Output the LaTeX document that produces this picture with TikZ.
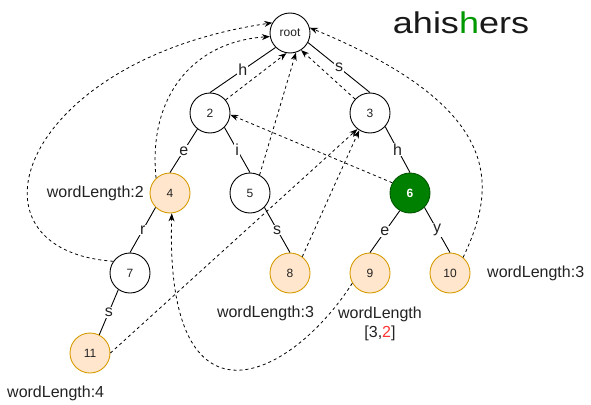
\documentclass[tikz,border=0pt]{standalone}
\usepackage{fontspec}
\setmainfont{Liberation Sans}
\usepackage{graphicx}
\usetikzlibrary{arrows.meta}
\definecolor{orfill}{HTML}{FFE6CC}
\definecolor{ordraw}{HTML}{D79B00}
\definecolor{gfill}{HTML}{008000}
\definecolor{gdraw}{HTML}{005700}
\definecolor{txt}{HTML}{222222}
\definecolor{tgreen}{HTML}{009900}
\definecolor{tred}{HTML}{FF3333}
\tikzset{
  tnode/.style={circle, draw=black, line width=0.9pt, minimum size=40pt, inner sep=0pt,
    font=\fontsize{12}{14}\selectfont, text=txt, fill=white},
  wnode/.style={tnode, fill=orfill, draw=ordraw},
  gnode/.style={tnode, fill=gfill, draw=gdraw, text=white, font=\bfseries\fontsize{12}{14}\selectfont},
  tedge/.style={line width=0.9pt, draw=black},
  elab/.style={fill=white, inner sep=1pt, font=\fontsize{16}{18}\selectfont, text=txt},
  flink/.style={line width=0.8pt, dash pattern=on 3pt off 3pt, -{Stealth[length=8pt,width=6pt]}},
  wlab/.style={font=\fontsize{16}{19}\selectfont, text=txt, inner sep=0pt}
}
\begin{document}
\begin{tikzpicture}[x=1pt, y=-1pt]
\useasboundingbox (0,0) rectangle (591,404);
% nodes
\node[tnode] (root) at (290,33) {root};
\node[tnode] (n2) at (210,113) {2};
\node[tnode] (n3) at (370,113) {3};
\node[wnode] (n4) at (170,193) {4};
\node[tnode] (n5) at (250,193) {5};
\node[gnode] (n6) at (410,193) {6};
\node[tnode] (n7) at (130,273) {7};
\node[wnode] (n8) at (290,273) {8};
\node[wnode] (n9) at (370,273) {9};
\node[wnode] (n10) at (450,273) {10};
\node[wnode] (n11) at (90,353) {11};
% tree edges
\draw[tedge] (root.225) -- node[elab] (lh1) {h} (n2.north);
\draw[tedge] (root.-28) -- node[elab] (ls1) {s} (n3.north);
\draw[tedge] (n2.232) -- node[elab] (le1) {e} (n4.north);
\draw[tedge] (n2.-45) -- node[elab] (li1) {i} (n5.north);
\draw[tedge] (n3.-42) -- node[elab] (lh2) {h} (n6.north);
\draw[tedge] (n4.225) -- node[elab] (lr1) {r} (n7.north);
\draw[tedge] (n5.-45) -- node[elab] (ls2) {s} (n8.north);
\draw[tedge] (n7.235) -- node[elab] (ls3) {s} (n11.63);
\draw[tedge] (n6.240) -- node[elab] (le2) {e} (n9.north);
\draw[tedge] (n6.-45) -- node[elab] (ly1) {y} (n10.north);
% failure links
\draw[flink] (n2.40) -- (root.260);
\draw[flink] (n5.62) -- (root.287);
\draw[flink] (n3.137) -- (root.303);
\draw[flink] (n6.150) -- (n2.355);
\draw[flink] (n8.53) -- (n3.238);
\draw[flink] (n11.east) -- (n3.232);
\draw[flink] (n4.133) .. controls (148,100) and (190,42) .. (root.190);
\draw[flink] (n7.145) .. controls (-45,250) and (20,60) .. (root.150);
\draw[flink] (n10.50) .. controls (495,190) and (510,110) .. (root.15);
\draw[flink] (n9.210) .. controls (290,380) and (165,440) .. (n4.275);
% labels
\node[wlab, anchor=east] (w4) at (144,193) {wordLength:2};
\node[wlab] (w8) at (265.5,313) {wordLength:3};
\node[wlab, align=center] (w9) at (380,324) {wordLength\\{}[3,\textcolor{tred}{2}]};
\node[wlab, anchor=west] (w10) at (487,273) {wordLength:3};
\node[wlab, anchor=west] (w11) at (7,393) {wordLength:4};
\node[text=black!90, inner sep=0pt] (title) at (461,23) {\scalebox{1.2}[1]{\fontsize{30}{32}\selectfont ahis\textcolor{tgreen}{h}ers}};
\end{tikzpicture}
\end{document}
